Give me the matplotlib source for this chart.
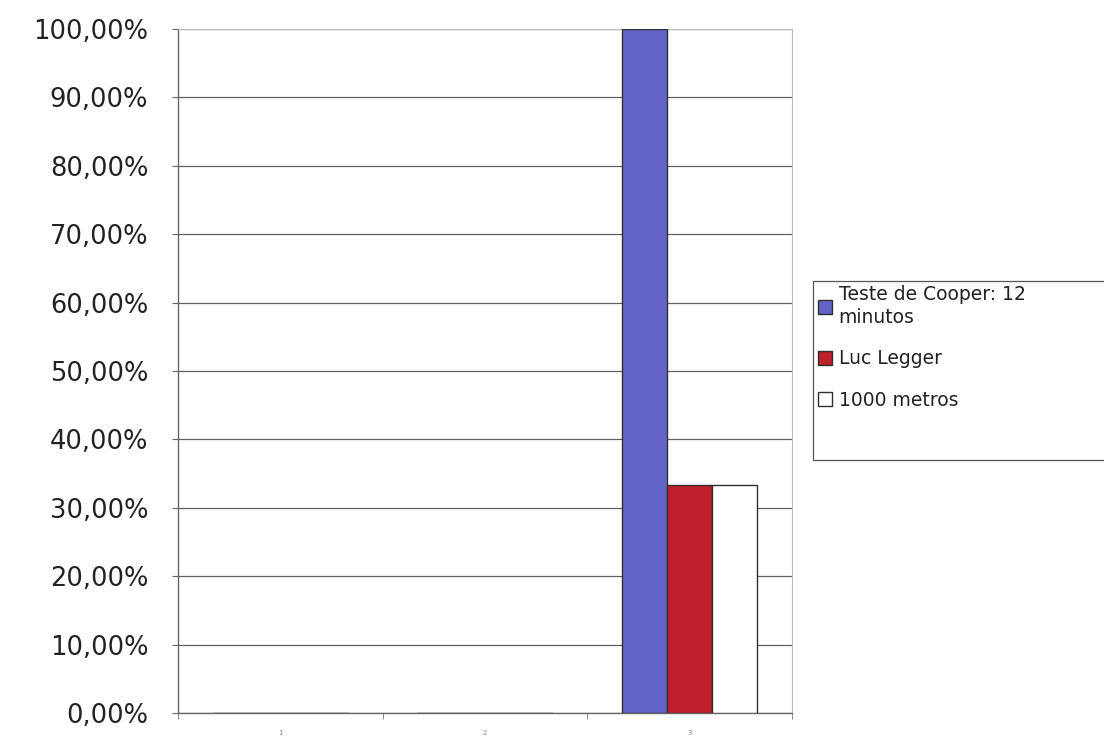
import numpy as np
import matplotlib.pyplot as plt
from matplotlib.patches import Rectangle
from matplotlib.ticker import FuncFormatter, MultipleLocator

# categories and series values (fraction)
categories = ["1", "2", "3"]
series_names = ["Teste de Cooper: 12\nminutos", "Luc Legger", "1000 metros"]
cooper = [0.0, 0.0, 1.0]
luc_legger = [0.0, 0.0, 0.3333]
mil_metros = [0.0, 0.0, 0.3333]

plt.rcParams['font.family'] = ['DejaVu Sans']

fig = plt.figure(figsize=(11.04, 7.39), dpi=100)
ax = fig.add_axes([178 / 1104, 1 - 713 / 739, 614 / 1104, 684 / 739])

x = np.arange(len(categories))
w = 0.22
colors = ["#6464c8", "#c0202c", "#ffffff"]
values = [cooper, luc_legger, mil_metros]
for i, (vals, name, c) in enumerate(zip(values, series_names, colors)):
    ax.bar(x + (i - 1) * w, vals, w, color=c, edgecolor="#303030",
           linewidth=1.0, label=name, zorder=3)

ax.set_xlim(-0.5, 2.5)
ax.set_ylim(0, 1.0)
ax.yaxis.set_major_locator(MultipleLocator(0.1))
ax.yaxis.set_major_formatter(FuncFormatter(lambda v, p: ("%.2f%%" % (v * 100)).replace(".", ",")))
ax.grid(axis="y", color="#606060", linewidth=0.9, zorder=0)

ax.set_xticks(x)
ax.set_xticklabels(categories, fontsize=5, color="#888888")
ax.set_xticks([-0.5, 0.5, 1.5, 2.5], minor=True)
ax.tick_params(axis="x", which="major", length=0, pad=12)
ax.tick_params(axis="x", which="minor", length=4, color="#777777")
ax.tick_params(axis="y", length=4.5, color="#666666", labelsize=18.5, pad=17,
               labelcolor="#222222")

for s in ["top", "right"]:
    ax.spines[s].set_color("#bbbbbb")
    ax.spines[s].set_linewidth(0.8)
for s in ["left", "bottom"]:
    ax.spines[s].set_color("#666666")
    ax.spines[s].set_linewidth(1.0)

# legend box drawn separately so its size matches the original
fig.patches.append(Rectangle((813 / 1104, 1 - 460 / 739), 300 / 1104, 179 / 739,
                             transform=fig.transFigure, fill=False,
                             edgecolor="#555555", linewidth=0.9))
leg = ax.legend(loc="upper left", bbox_to_anchor=(818 / 1104, 1 - 285 / 739),
                bbox_transform=fig.transFigure, fontsize=13.5, frameon=False,
                handlelength=0.75, handleheight=0.75, handletextpad=0.35,
                labelspacing=1.2, borderpad=0.0, borderaxespad=0)
for t in leg.get_texts():
    t.set_color("#222222")
    t.set_linespacing(1.25)

fig.savefig("out.png", dpi=100)
